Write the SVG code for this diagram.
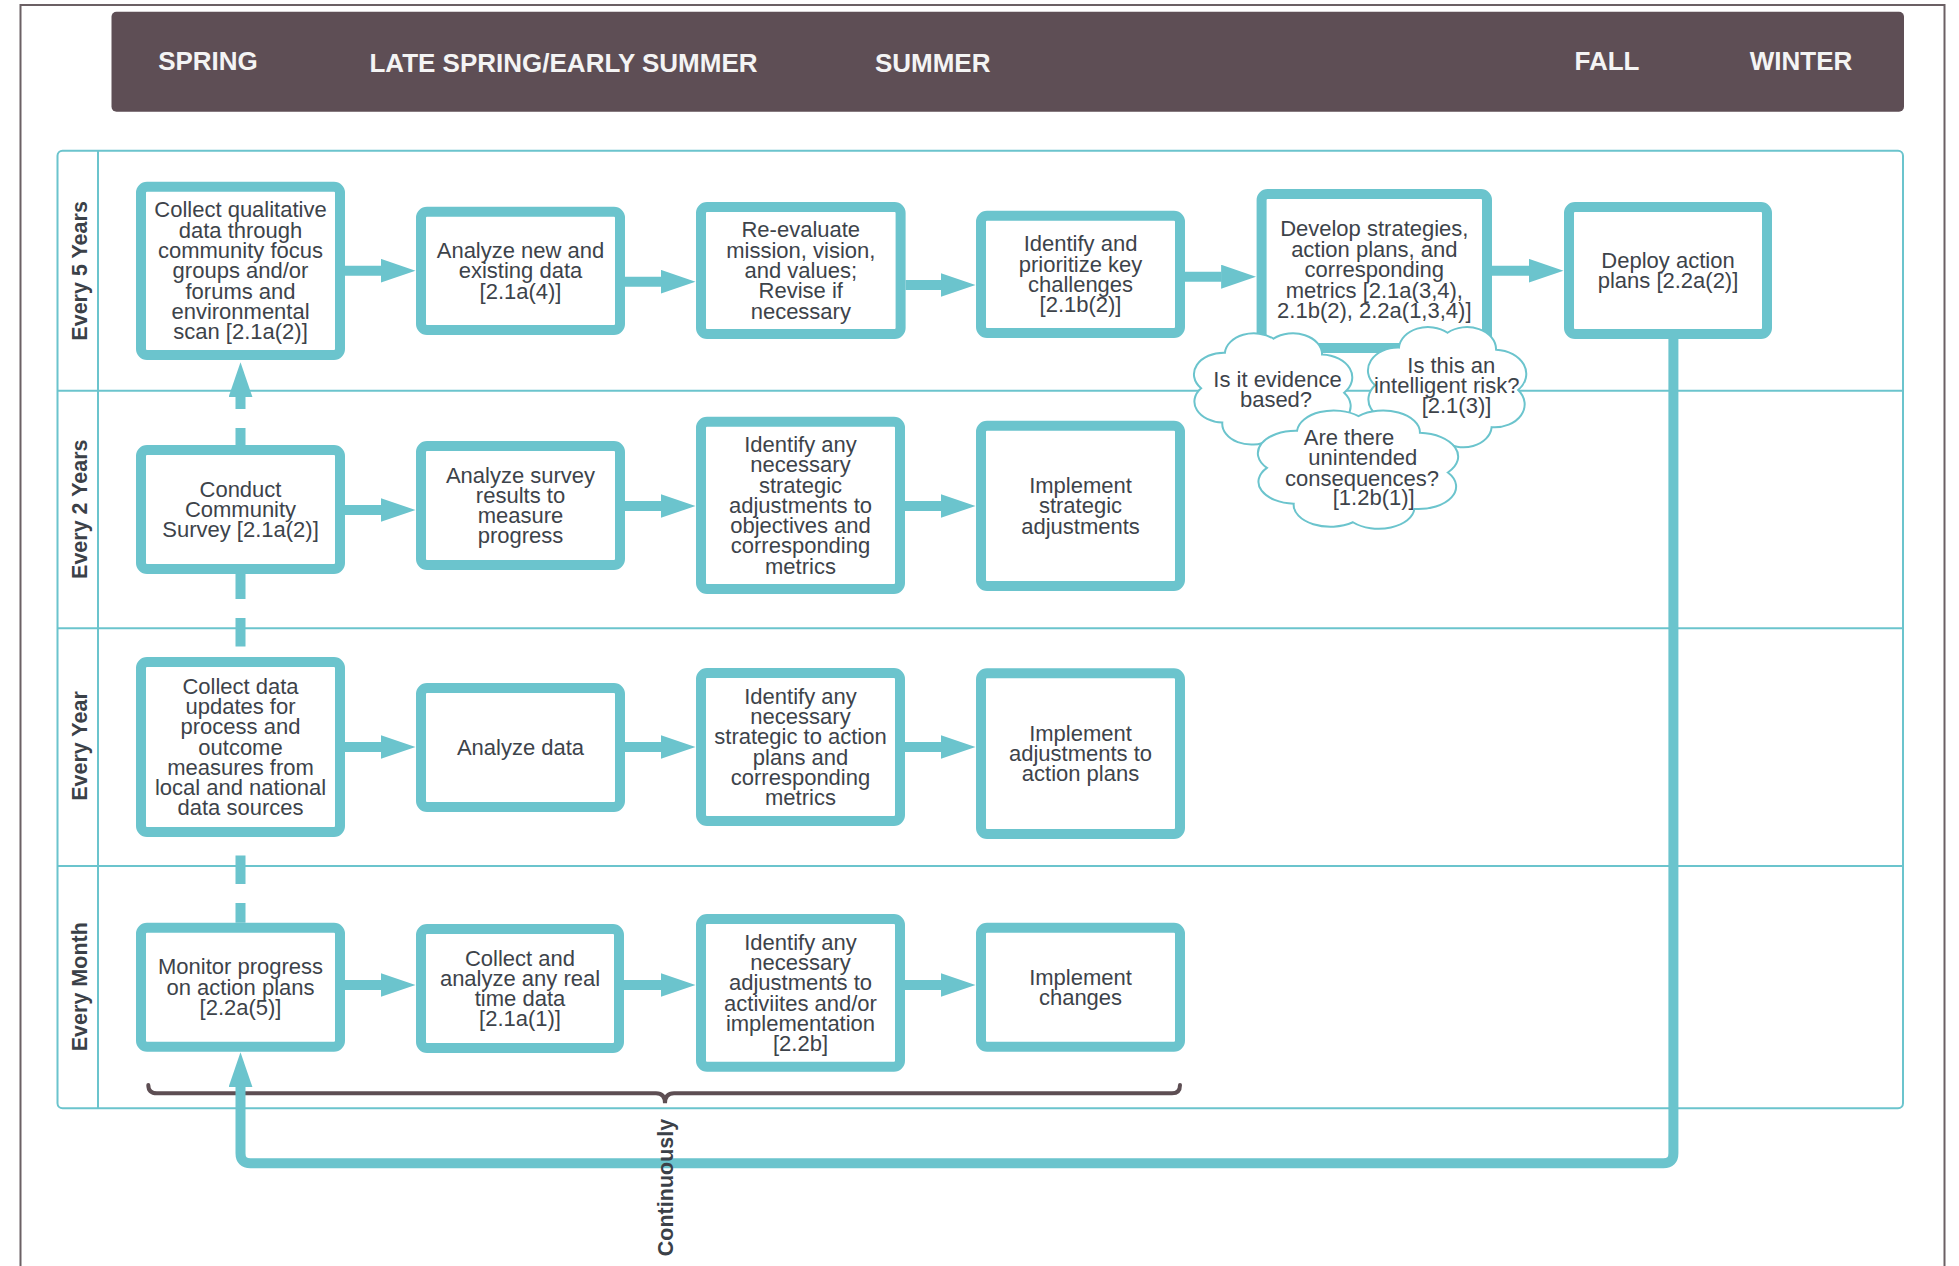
<svg xmlns="http://www.w3.org/2000/svg" xmlns:xlink="http://www.w3.org/1999/xlink" width="1959" height="1266" viewBox="0 0 1959 1266">
  <style>
    .frame { fill: none; stroke: #6b6064; stroke-width: 2; }
    .band { fill: #5e4e55; }
    .hdr { font-family: "Liberation Sans", Arial, sans-serif; font-weight: bold; font-size: 26px; fill: #f4f4f4; text-anchor: middle; }
    .lane { fill: none; stroke: #6bc4cd; stroke-width: 2; }
    .lbl { font-family: "Liberation Sans", Arial, sans-serif; font-weight: bold; font-size: 21.5px; fill: #3b4148; text-anchor: middle; }
    .box { fill: #ffffff; stroke: #6bc4cd; stroke-width: 10; }
    .t { font-family: "Liberation Sans", Arial, sans-serif; font-size: 22px; fill: #3d434a; text-anchor: middle; }
    .flow { fill: none; stroke: #6bc4cd; stroke-width: 10; marker-end: url(#ah); }
    .dash { stroke-dasharray: 28.5 19; stroke-dashoffset: 16.2; marker-end: none; marker-start: url(#ah); }
    .brace { fill: none; stroke: #5d4e53; stroke-width: 4; stroke-linecap: round; }
    .cloud { fill: #ffffff; stroke: #6bc4cd; stroke-width: 2; vector-effect: non-scaling-stroke; }
  </style>
  <defs>
    <marker id="ah" markerUnits="userSpaceOnUse" viewBox="0 0 35 24" markerWidth="35" markerHeight="24" refX="0.5" refY="12" orient="auto-start-reverse">
      <path d="M0,0 L35,12 L0,24 Z" fill="#6bc4cd"/>
    </marker>
    <!-- cloud outline centred on 0,0, about 180 x 178 units -->
    <path id="cloudShape" class="cloud" d="M80,5 A34,34 0 0 1 50,60 A32,32 0 0 1 -5,80 A33,33 0 0 1 -58,52 A33,33 0 0 1 -82,-2 A34,34 0 0 1 -55,-58 A33,33 0 0 1 0,-80 A33,33 0 0 1 55,-55 A36,36 0 0 1 80,5 Z"/>
  </defs>

  <rect width="1959" height="1266" fill="#ffffff"/>
  <rect class="frame" x="20.5" y="5" width="1924" height="1300"/>

  <!-- season header -->
  <g id="seasons">
    <rect class="band" x="111.5" y="11.7" width="1792.5" height="100" rx="5"/>
    <text class="hdr" x="208" y="70">SPRING</text>
    <text class="hdr" x="563.5" y="72.3">LATE SPRING/EARLY SUMMER</text>
    <text class="hdr" x="932.7" y="72">SUMMER</text>
    <text class="hdr" x="1607" y="70">FALL</text>
    <text class="hdr" x="1801" y="70">WINTER</text>
  </g>

  <!-- swimlanes -->
  <g id="lanes">
    <rect class="lane" x="57.5" y="150.7" width="1845.5" height="957.6" rx="5"/>
    <line class="lane" x1="98" y1="150.7" x2="98" y2="1108.3"/>
    <line class="lane" x1="57.5" y1="390.7" x2="1903" y2="390.7"/>
    <line class="lane" x1="57.5" y1="628.2" x2="1903" y2="628.2"/>
    <line class="lane" x1="57.5" y1="866" x2="1903" y2="866"/>
    <text class="lbl" transform="translate(86.5,270.9) rotate(-90)">Every 5 Years</text>
    <text class="lbl" transform="translate(86.5,509.2) rotate(-90)">Every 2 Years</text>
    <text class="lbl" transform="translate(86.5,746) rotate(-90)">Every Year</text>
    <text class="lbl" transform="translate(86.5,986.7) rotate(-90)">Every Month</text>
  </g>

  <!-- brace spanning the monthly steps -->
  <g id="brace">
    <path class="brace" d="M148.3,1085 Q148.3,1093.3 157,1093.3 H656 Q665,1093.3 665,1103.3 Q665,1093.3 674,1093.3 H1172 Q1180,1093.3 1180,1085"/>
  </g>

  <!-- connectors -->
  <g id="connectors">
    <path class="flow" d="M345,270.7 H381"/>
    <path class="flow" d="M625,281.7 H661"/>
    <path class="flow" d="M905.6,285 H941"/>
    <path class="flow" d="M1185,276.7 H1221.6"/>
    <path class="flow" d="M1492,270.7 H1529"/>

    <path class="flow" d="M345,510 H381"/>
    <path class="flow" d="M625,506 H661"/>
    <path class="flow" d="M905,506 H941"/>

    <path class="flow" d="M345,747 H381"/>
    <path class="flow" d="M625,747 H661"/>
    <path class="flow" d="M905,747 H941"/>

    <path class="flow" d="M345,985 H381"/>
    <path class="flow" d="M624,985 H661"/>
    <path class="flow" d="M905,985 H941"/>

    <path class="flow dash" d="M240.5,396.7 V922.7"/>
    <path class="flow" d="M1673.4,339 V1153.3 Q1673.4,1163.3 1663.4,1163.3 H250.5 Q240.5,1163.3 240.5,1153.3 V1086.7"/>
  </g>

  <!-- every 5 years -->
  <g id="n1">
    <rect class="box" x="141" y="186.7" width="199" height="168.3" rx="6"/>
    <text class="t"><tspan x="240.5" y="217.45">Collect qualitative</tspan><tspan x="240.5" dy="20.3">data through</tspan><tspan x="240.5" dy="20.3">community focus</tspan><tspan x="240.5" dy="20.3">groups and/or</tspan><tspan x="240.5" dy="20.3">forums and</tspan><tspan x="240.5" dy="20.3">environmental</tspan><tspan x="240.5" dy="20.3">scan [2.1a(2)]</tspan></text>
  </g>
  <g id="n2">
    <rect class="box" x="421" y="211.7" width="199" height="118.3" rx="6"/>
    <text class="t"><tspan x="520.5" y="258.05">Analyze new and</tspan><tspan x="520.5" dy="20.3">existing data</tspan><tspan x="520.5" dy="20.3">[2.1a(4)]</tspan></text>
  </g>
  <g id="n3">
    <rect class="box" x="701" y="207" width="199.6" height="127" rx="6"/>
    <text class="t"><tspan x="800.8" y="237.4">Re-evaluate</tspan><tspan x="800.8" dy="20.3">mission, vision,</tspan><tspan x="800.8" dy="20.3">and values;</tspan><tspan x="800.8" dy="20.3">Revise if</tspan><tspan x="800.8" dy="20.3">necessary</tspan></text>
  </g>
  <g id="n4">
    <rect class="box" x="981" y="215.7" width="199" height="117.3" rx="6"/>
    <text class="t"><tspan x="1080.5" y="251.4">Identify and</tspan><tspan x="1080.5" dy="20.3">prioritize key</tspan><tspan x="1080.5" dy="20.3">challenges</tspan><tspan x="1080.5" dy="20.3">[2.1b(2)]</tspan></text>
  </g>
  <g id="n5">
    <rect class="box" x="1261.6" y="194" width="225.4" height="154" rx="6"/>
    <text class="t"><tspan x="1374.3" y="236">Develop strategies,</tspan><tspan x="1374.3" dy="20.6">action plans, and</tspan><tspan x="1374.3" dy="20.6">corresponding</tspan><tspan x="1374.3" dy="20.6">metrics [2.1a(3,4),</tspan><tspan x="1374.3" dy="20.6">2.1b(2), 2.2a(1,3,4)]</tspan></text>
  </g>
  <g id="n6">
    <rect class="box" x="1569" y="207" width="198" height="127" rx="6"/>
    <text class="t"><tspan x="1668" y="267.85">Deploy action</tspan><tspan x="1668" dy="20.3">plans [2.2a(2)]</tspan></text>
  </g>

  <!-- every 2 years -->
  <g id="n7">
    <rect class="box" x="141" y="450" width="199" height="119" rx="6"/>
    <text class="t"><tspan x="240.5" y="496.7">Conduct</tspan><tspan x="240.5" dy="20.3">Community</tspan><tspan x="240.5" dy="20.3">Survey [2.1a(2)]</tspan></text>
  </g>
  <g id="n8">
    <rect class="box" x="421" y="446" width="199" height="119" rx="6"/>
    <text class="t"><tspan x="520.5" y="482.55">Analyze survey</tspan><tspan x="520.5" dy="20.3">results to</tspan><tspan x="520.5" dy="20.3">measure</tspan><tspan x="520.5" dy="20.3">progress</tspan></text>
  </g>
  <g id="n9">
    <rect class="box" x="701" y="421.7" width="199" height="167.3" rx="6"/>
    <text class="t"><tspan x="800.5" y="451.95">Identify any</tspan><tspan x="800.5" dy="20.3">necessary</tspan><tspan x="800.5" dy="20.3">strategic</tspan><tspan x="800.5" dy="20.3">adjustments to</tspan><tspan x="800.5" dy="20.3">objectives and</tspan><tspan x="800.5" dy="20.3">corresponding</tspan><tspan x="800.5" dy="20.3">metrics</tspan></text>
  </g>
  <g id="n10">
    <rect class="box" x="981" y="425.7" width="199" height="160.3" rx="6"/>
    <text class="t"><tspan x="1080.5" y="493.05">Implement</tspan><tspan x="1080.5" dy="20.3">strategic</tspan><tspan x="1080.5" dy="20.3">adjustments</tspan></text>
  </g>

  <!-- every year -->
  <g id="n11">
    <rect class="box" x="141" y="662" width="199" height="170" rx="6"/>
    <text class="t"><tspan x="240.5" y="693.6">Collect data</tspan><tspan x="240.5" dy="20.3">updates for</tspan><tspan x="240.5" dy="20.3">process and</tspan><tspan x="240.5" dy="20.3">outcome</tspan><tspan x="240.5" dy="20.3">measures from</tspan><tspan x="240.5" dy="20.3">local and national</tspan><tspan x="240.5" dy="20.3">data sources</tspan></text>
  </g>
  <g id="n12">
    <rect class="box" x="421" y="688" width="199" height="119" rx="6"/>
    <text class="t" x="520.5" y="755">Analyze data</text>
  </g>
  <g id="n13">
    <rect class="box" x="701" y="673" width="199" height="148" rx="6"/>
    <text class="t"><tspan x="800.5" y="703.75">Identify any</tspan><tspan x="800.5" dy="20.3">necessary</tspan><tspan x="800.5" dy="20.3">strategic to action</tspan><tspan x="800.5" dy="20.3">plans and</tspan><tspan x="800.5" dy="20.3">corresponding</tspan><tspan x="800.5" dy="20.3">metrics</tspan></text>
  </g>
  <g id="n14">
    <rect class="box" x="981" y="673.3" width="199" height="160.7" rx="6"/>
    <text class="t"><tspan x="1080.5" y="740.85">Implement</tspan><tspan x="1080.5" dy="20.3">adjustments to</tspan><tspan x="1080.5" dy="20.3">action plans</tspan></text>
  </g>

  <!-- every month -->
  <g id="n15">
    <rect class="box" x="141" y="927.7" width="199" height="119" rx="6"/>
    <text class="t"><tspan x="240.5" y="974.4">Monitor progress</tspan><tspan x="240.5" dy="20.3">on action plans</tspan><tspan x="240.5" dy="20.3">[2.2a(5)]</tspan></text>
  </g>
  <g id="n16">
    <rect class="box" x="421" y="929" width="198" height="119" rx="6"/>
    <text class="t"><tspan x="520" y="965.55">Collect and</tspan><tspan x="520" dy="20.3">analyze any real</tspan><tspan x="520" dy="20.3">time data</tspan><tspan x="520" dy="20.3">[2.1a(1)]</tspan></text>
  </g>
  <g id="n17">
    <rect class="box" x="701" y="919" width="199" height="147.7" rx="6"/>
    <text class="t"><tspan x="800.5" y="949.6">Identify any</tspan><tspan x="800.5" dy="20.3">necessary</tspan><tspan x="800.5" dy="20.3">adjustments to</tspan><tspan x="800.5" dy="20.3">activiites and/or</tspan><tspan x="800.5" dy="20.3">implementation</tspan><tspan x="800.5" dy="20.3">[2.2b]</tspan></text>
  </g>
  <g id="n18">
    <rect class="box" x="981" y="927.7" width="199" height="119" rx="6"/>
    <text class="t"><tspan x="1080.5" y="984.55">Implement</tspan><tspan x="1080.5" dy="20.3">changes</tspan></text>
  </g>

  <!-- question clouds under the strategy step -->
  <g id="q1">
    <use xlink:href="#cloudShape" href="#cloudShape" transform="translate(1273.5,389.5) scale(0.883,0.635)"/>
    <text class="t"><tspan x="1277.5" y="386.7">Is it evidence</tspan><tspan x="1276" y="407.3">based?</tspan></text>
  </g>
  <g id="q2">
    <use xlink:href="#cloudShape" href="#cloudShape" transform="translate(1447.5,386.7) scale(0.883,0.674)"/>
    <text class="t"><tspan x="1451.3" y="373.3">Is this an</tspan><tspan x="1446.7" y="393.3">intelligent risk?</tspan><tspan x="1456.5" y="413.3">[2.1(3)]</tspan></text>
  </g>
  <g id="q3">
    <use xlink:href="#cloudShape" href="#cloudShape" transform="translate(1358.5,469.2) scale(1.117,0.663)"/>
    <text class="t"><tspan x="1349" y="445">Are there</tspan><tspan x="1362.8" y="465">unintended</tspan><tspan x="1362" y="485.7">consequences?</tspan><tspan x="1373.7" y="505">[1.2b(1)]</tspan></text>
  </g>

  <text class="lbl" transform="translate(672.5,1187.5) rotate(-90)">Continuously</text>
</svg>
